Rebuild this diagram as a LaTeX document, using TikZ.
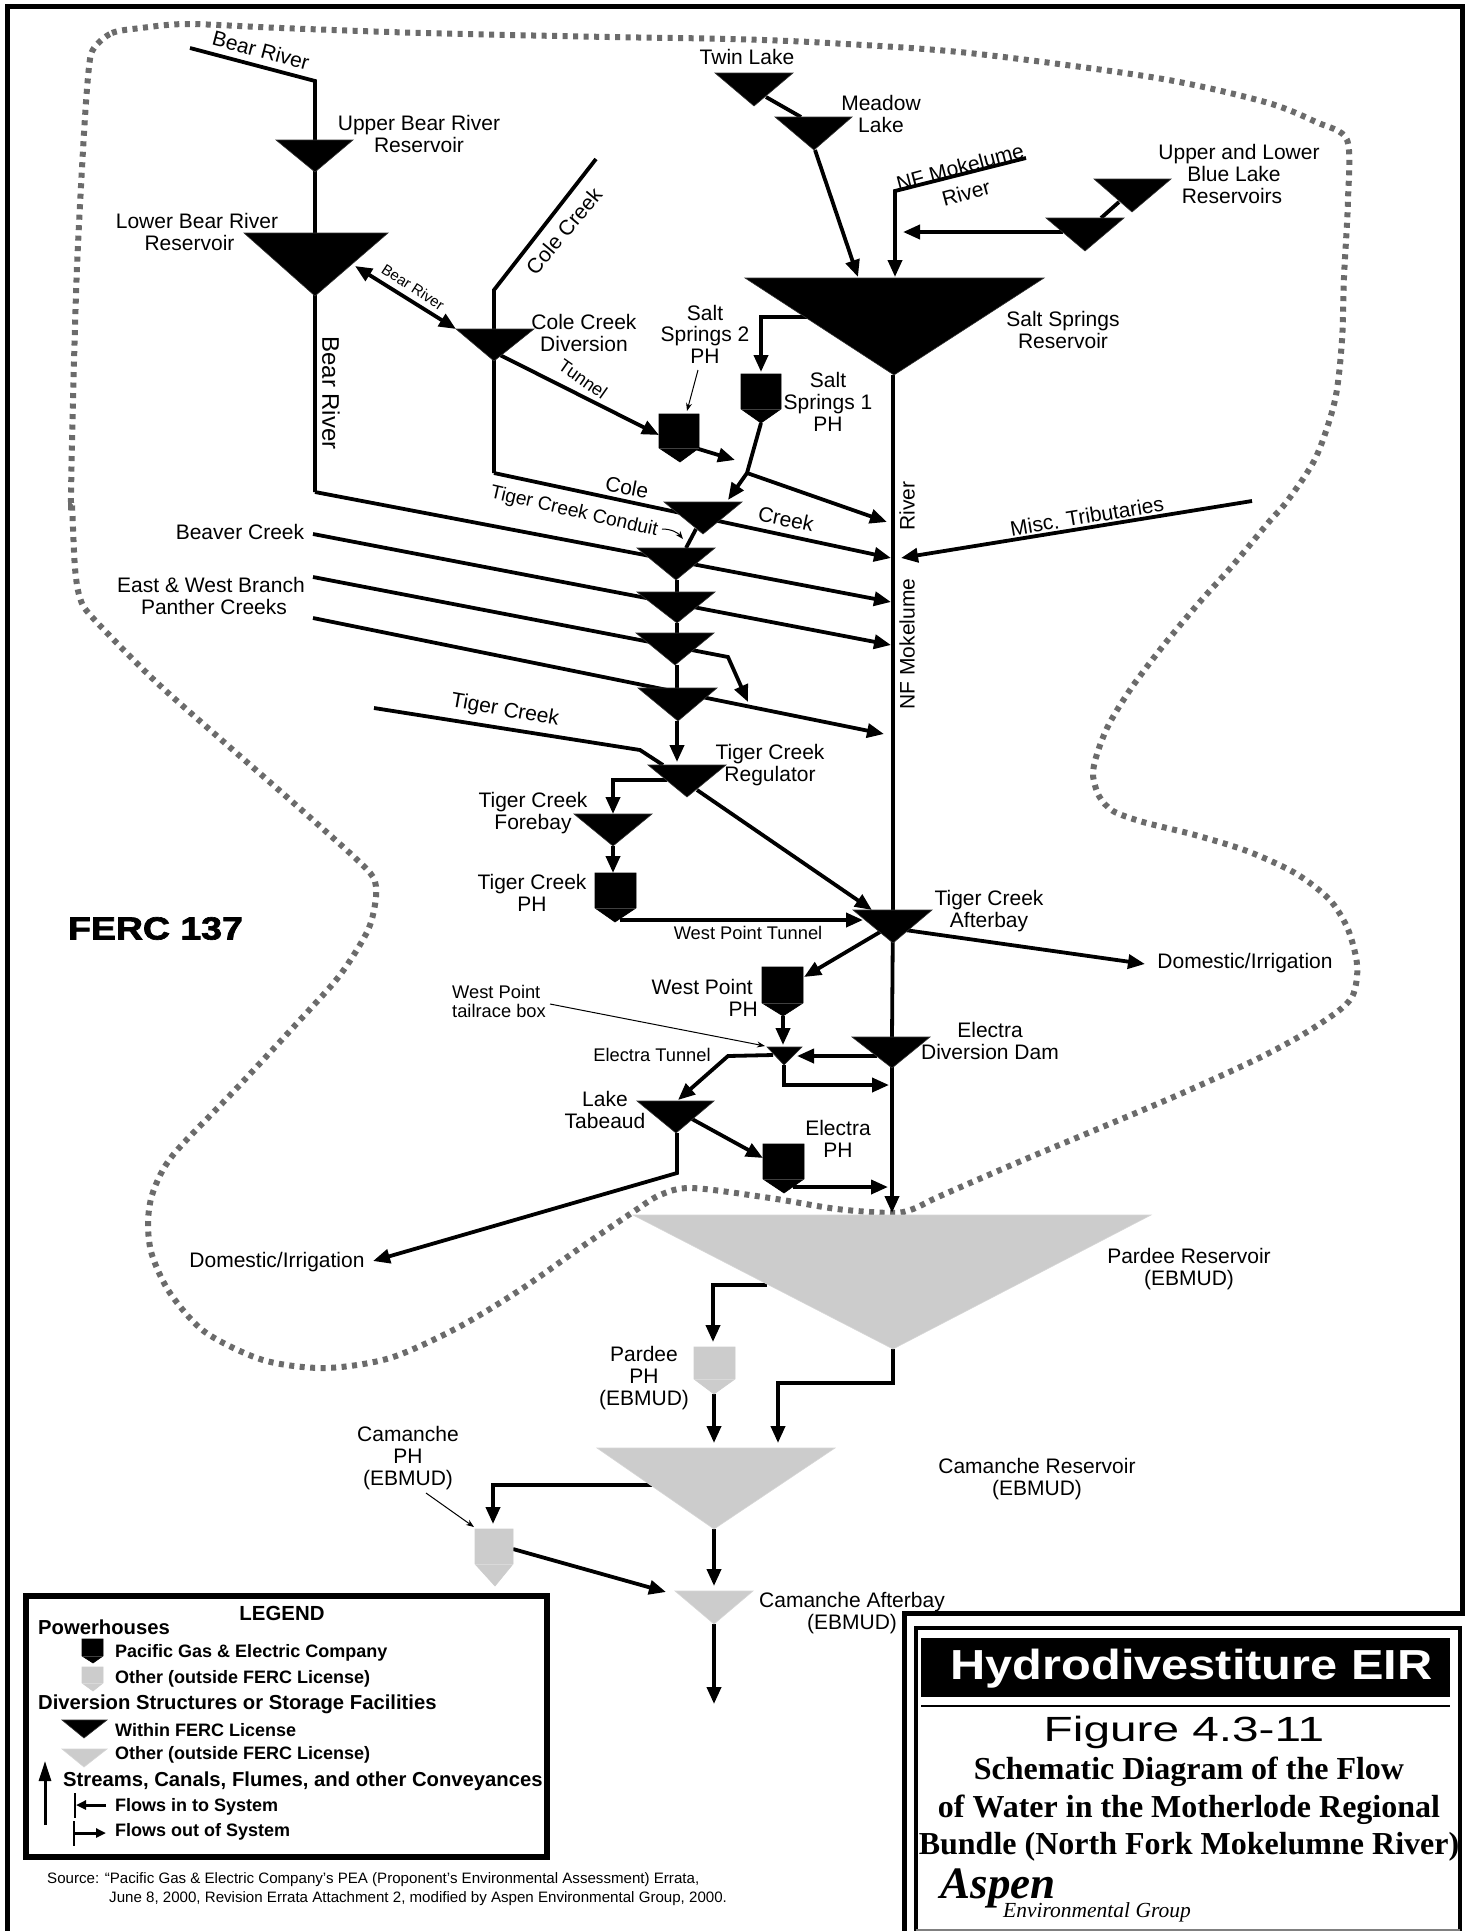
\documentclass[tikz,border=0pt]{standalone}
\usepackage{fontspec}
\setmainfont{Liberation Sans}
\newfontfamily\tnr{Liberation Serif}
\newfontfamily\heavyf{Liberation Sans}[UprightFont=* Bold,FakeBold=2]
\usetikzlibrary{arrows.meta}
\definecolor{gry}{gray}{0.8}
\definecolor{dotgry}{gray}{0.42}
\tikzset{
  flow/.style={line width=3.8pt,line join=miter},
  arr/.style={flow,-{Triangle[length=17pt,width=14pt]}},
  darr/.style={flow,{Triangle[length=17pt,width=14pt]}-{Triangle[length=17pt,width=14pt]}},
  thinarr/.style={line width=1pt,-{Stealth[length=8pt,width=6pt]}},
  lbl/.style={inner sep=0pt,align=center,font=\fontsize{21}{22}\selectfont},
  lblr/.style={inner sep=0pt,align=right,font=\fontsize{21}{21.5}\selectfont},
  smalllbl/.style={inner sep=0pt,align=center,font=\fontsize{18.3}{19}\selectfont},
  legh/.style={inner sep=0pt,anchor=west,font=\bfseries\fontsize{20.25}{21}\selectfont},
  legt/.style={inner sep=0pt,anchor=west,font=\bfseries\fontsize{18}{19}\selectfont},
  srct/.style={inner sep=0pt,anchor=west,font=\fontsize{15.1}{16}\selectfont},
  titletimes/.style={inner sep=0pt,font=\tnr\bfseries\fontsize{32}{32}\selectfont},
}
\newcommand{\resv}[7]{%
  \coordinate (#1-l) at (#2,#4); \coordinate (#1-r) at (#3,#4); \coordinate (#1-a) at (#5,#6);
  \filldraw[fill=#7,draw=#7!80!white,line width=.6pt] (#1-l) -- (#1-r) -- (#1-a) -- cycle;}
\newcommand{\phouse}[8]{%
  \coordinate (#1-a) at (#6,#7);
  \filldraw[fill=#8,draw=#8,line width=.6pt] (#2,#4) -- (#3,#4) -- (#3,#5) -- (#1-a) -- (#2,#5) -- cycle;
  \draw[#8!75!white,line width=.5pt] (#2,#5) -- (#3,#5);}
\begin{document}
\begin{tikzpicture}[x=1pt,y=-1pt]
\useasboundingbox (0,0) rectangle (1470,1931);
\fill[white] (0,0) rectangle (1470,1931);

% outer frame
\coordinate (fa) at (7,1931); \coordinate (fb) at (7,6); \coordinate (fc) at (1462,6);
\coordinate (fd) at (1462,1613); \coordinate (fe) at (904,1613); \coordinate (ff) at (904,1931);
\draw[line width=5pt,line join=miter] (fa) -- (fb) -- (fc) -- (fd) -- (fe) -- (ff);

% FERC boundary
\draw[dotgry,line width=6pt,dash pattern=on 5pt off 5.5pt]
 plot[smooth cycle,tension=.5] coordinates {(94,48)(112,33)(141,28)(188,24)(281,28)(422,33)(609,37)(731,39)(829,43)(969,53)(1157,78)(1265,102)(1316,122)(1347,140)(1348,200)(1344,277)(1342,340)(1335,400)(1316,457)(1288,500)(1268,523)(1233,565)(1198,604)(1163,646)(1132,687)(1109,724)(1097,754)(1093,775)(1099,796)(1113,811)(1143,822)(1195,835)(1247,851)(1295,873)(1329,899)(1347,927)(1356,957)(1357,977)(1352,997)(1337,1012)(1302,1035)(1255,1060)(1178,1095)(1100,1128)(1040,1153)(1000,1170)(938,1197)(913,1209)(892,1213)(837,1209)(770,1198)(692,1188)(660,1195)(633,1212)(580,1248)(520,1290)(457,1328)(390,1358)(325,1368)(263,1360)(205,1332)(170,1293)(152,1255)(148,1223)(153,1192)(173,1155)(235,1090)(300,1020)(340,975)(368,930)(376,897)(373,877)(352,855)(288,798)(217,736)(153,679)(92,617)(80,598)(75,568)(72,505)(71,497)(73,400)(77,267)(84,133)(89,67)};

% junction coordinates
\coordinate (br0) at (190,48); \coordinate (br1) at (315,81); \coordinate (br2) at (315,492); \coordinate (m3) at (891,602);
\coordinate (cc0) at (596,159); \coordinate (cc1) at (494,290); \coordinate (cc2) at (494,473); \coordinate (m2) at (891,558);
\coordinate (bv0) at (313,534); \coordinate (m4) at (891,645);
\coordinate (ew0) at (313,577); \coordinate (ew1) at (728,657); \coordinate (ew2) at (748,702);
\coordinate (pc0) at (313,618); \coordinate (m5) at (884,734);
\coordinate (tc0) at (374,708); \coordinate (tc1) at (640,750); \coordinate (tc2) at (663,765);
\coordinate (ms0) at (1252,501); \coordinate (ms1) at (901,558);
\coordinate (jn) at (747,473); \coordinate (m1) at (887,522);
\coordinate (t1in) at (728,500);
\coordinate (s2a) at (692,447); \coordinate (s2b) at (735,460);
\coordinate (tn0) at (498,354); \coordinate (tn1) at (659,435);
\coordinate (lb0) at (355,266); \coordinate (lb1) at (456,329);
\coordinate (ss0) at (808,317); \coordinate (ss1) at (761,317); \coordinate (ss2) at (761,372);
\coordinate (nf0) at (1026,158); \coordinate (nf1) at (895,191); \coordinate (nf2) at (895,277);
\coordinate (ml0) at (815,150); \coordinate (ml1) at (858,277);
\coordinate (twa) at (766,97); \coordinate (twb) at (801,117);
\coordinate (ub0) at (1119,202); \coordinate (ub1) at (1101,218);
\coordinate (lb2) at (1063,232); \coordinate (lb3) at (903,232);
\coordinate (t12a) at (696,529); \coordinate (t12b) at (686,548);
\coordinate (rg0) at (677,721); \coordinate (rg1) at (677,762);
\coordinate (rl0) at (667,780); \coordinate (rl1) at (613,780); \coordinate (rl2) at (613,814);
\coordinate (rr0) at (697,790); \coordinate (rr1) at (872,910);
\coordinate (fb1) at (613,846); \coordinate (fb2) at (613,873);
\coordinate (wt0) at (620,920); \coordinate (wt1) at (863,920);
\coordinate (dm0) at (905,930); \coordinate (dm1) at (1145,964);
\coordinate (wp0) at (880,932); \coordinate (wp1) at (804,977);
\coordinate (wq0) at (783,1016); \coordinate (wq1) at (783,1045);
\coordinate (ed0) at (877,1056); \coordinate (ed1) at (797,1056);
\coordinate (tl0) at (784,1065); \coordinate (tl1) at (784,1085); \coordinate (tl2) at (889,1085);
\coordinate (et0) at (773,1055); \coordinate (et1) at (728,1056); \coordinate (et2) at (678,1100);
\coordinate (ta0) at (692,1119); \coordinate (ta1) at (763,1158);
\coordinate (td0) at (677,1133); \coordinate (td1) at (677,1173); \coordinate (td2) at (373,1261);
\coordinate (ep0) at (793,1187); \coordinate (ep1) at (888,1187);
\coordinate (ri0) at (893,375); \coordinate (ri1) at (893,910); \coordinate (ri2) at (892,1037); \coordinate (ri3) at (892,1213);
\coordinate (pl0) at (767,1285); \coordinate (pl1) at (713,1285); \coordinate (pl2) at (713,1342);
\coordinate (pr0) at (893,1349); \coordinate (pr1) at (893,1383); \coordinate (pr2) at (778,1383); \coordinate (pr3) at (778,1443);
\coordinate (pp0) at (714,1394); \coordinate (pp1) at (714,1443);
\coordinate (cl0) at (652,1485); \coordinate (cl1) at (493,1485); \coordinate (cl2) at (493,1524);
\coordinate (cc3) at (714,1529); \coordinate (cc4) at (714,1586);
\coordinate (cp0) at (513,1549); \coordinate (cp1) at (666,1592);
\coordinate (ab0) at (714,1624); \coordinate (ab1) at (714,1704);

% connectors
\draw[flow] (br0) -- (br1) -- (br2);
\draw[arr] (br2) -- (m3);
\draw[flow] (cc0) -- (cc1) -- (cc2);
\draw[arr] (cc2) -- (m2);
\draw[arr] (bv0) -- (m4);
\draw[arr] (ew0) -- (ew1) -- (ew2);
\draw[arr] (pc0) -- (m5);
\draw[flow] (tc0) -- (tc1) -- (tc2);
\draw[arr] (ms0) -- (ms1);
\draw[arr] (jn) -- (m1);
\draw[darr] (lb0) -- (lb1);
\draw[arr] (tn0) -- (tn1);
\draw[arr] (s2a) -- (s2b);
\draw[arr] (ss0) -- (ss1) -- (ss2);
\draw[arr] (nf0) -- (nf1) -- (nf2);
\draw[arr] (ml0) -- (ml1);
\draw[flow] (twa) -- (twb);
\draw[flow] (ub0) -- (ub1);
\draw[arr] (lb2) -- (lb3);
\draw[flow] (t12a) -- (t12b);
\draw[flow] (677,580) -- (677,592);
\draw[flow] (677,623) -- (677,633);
\draw[flow] (677,665) -- (677,688);
\draw[arr] (rg0) -- (rg1);
\draw[arr] (rl0) -- (rl1) -- (rl2);
\draw[arr] (rr0) -- (rr1);
\draw[arr] (fb1) -- (fb2);
\draw[arr] (wt0) -- (wt1);
\draw[arr] (dm0) -- (dm1);
\draw[arr] (wp0) -- (wp1);
\draw[arr] (wq0) -- (wq1);
\draw[arr] (ed0) -- (ed1);
\draw[arr] (tl0) -- (tl1) -- (tl2);
\draw[arr] (et0) -- (et1) -- (et2);
\draw[arr] (ta0) -- (ta1);
\draw[arr] (td0) -- (td1) -- (td2);
\draw[arr] (ep0) -- (ep1);
\draw[flow] (ri0) -- (ri1) -- (ri2);
\draw[arr] (ri2) -- (ri3);
\draw[arr] (pl0) -- (pl1) -- (pl2);
\draw[arr] (pr0) -- (pr1) -- (pr2) -- (pr3);
\draw[arr] (pp0) -- (pp1);
\draw[arr] (cl0) -- (cl1) -- (cl2);
\draw[arr] (cc3) -- (cc4);
\draw[arr] (cp0) -- (cp1);
\draw[arr] (ab0) -- (ab1);
\draw[flow] (jn) -- (761,423);
\draw[arr] (jn) -- (t1in);

% reservoirs
\resv{ubr}{276}{353}{140}{315}{172}{black}
\resv{lbr}{244}{388}{233}{315}{296}{black}
\resv{ccd}{456}{534}{329}{494}{361}{black}
\resv{twin}{715}{793}{73}{754}{106}{black}
\resv{mead}{775}{852}{117}{814}{150}{black}
\resv{ublue}{1094}{1171}{179}{1132}{212}{black}
\resv{lblue}{1046}{1124}{218}{1085}{251}{black}
\resv{salt}{745}{1044}{278}{894}{375}{black}
\resv{t1}{664}{742}{502}{703}{534}{black}
\resv{t2}{637}{715}{548}{676}{580}{black}
\resv{t3}{637}{715}{592}{677}{623}{black}
\resv{t4}{636}{714}{633}{675}{665}{black}
\resv{t5}{638}{717}{688}{678}{721}{black}
\resv{reg}{648}{726}{765}{687}{797}{black}
\resv{fore}{574}{652}{814}{613}{846}{black}
\resv{aft}{853}{932}{910}{893}{943}{black}
\resv{tail}{767}{802}{1047}{784}{1065}{black}
\resv{edd}{852}{930}{1037}{892}{1068}{black}
\resv{tab}{637}{714}{1101}{676}{1133}{black}
\resv{par}{633}{1151}{1215}{893}{1349}{gry}
\resv{cam}{597}{835}{1448}{714}{1529}{gry}
\resv{caf}{675}{753}{1591}{714}{1624}{gry}

% powerhouses
\phouse{s2}{659}{699}{414}{448}{680}{462}{black}
\phouse{s1}{741}{781}{374}{409}{761}{423}{black}
\phouse{tp}{595}{636}{873}{908}{615}{922}{black}
\phouse{wp}{762}{803}{967}{1003}{783}{1016}{black}
\phouse{ep}{763}{804}{1144}{1179}{784}{1193}{black}
\phouse{pp}{694}{735}{1347}{1379}{714}{1394}{gry}
\phouse{cp}{475}{513}{1529}{1564}{495}{1586}{gry}

% leader lines
\coordinate (la0) at (698,370); \coordinate (la1) at (687,411);
\draw[thinarr] (la0) -- (la1);
\coordinate (lc0) at (662,529); \coordinate (lc1) at (683,539);
\draw[thinarr] (lc0) .. controls (672,529) and (678,533) .. (lc1);
\coordinate (ld0) at (550,1004); \coordinate (ld1) at (765,1046);
\draw[thinarr] (ld0) -- (ld1);
\coordinate (le0) at (426,1493); \coordinate (le1) at (474,1527);
\draw[thinarr] (le0) -- (le1);

% labels
\node[lbl,rotate=-15] (n1) at (261,50) {Bear River};
\node[lbl] (n2) at (419,134) {Upper Bear River\\Reservoir};
\node[lbl] (n3) at (197,232) {Lower Bear River\\\hspace*{-15pt}Reservoir};
\node[lbl,rotate=50] (n4) at (564,231) {Cole Creek};
\node[lbl,rotate=-33,font=\fontsize{15}{16}\selectfont] (n5) at (413,287) {Bear River};
\node[lbl,rotate=-90,font=\fontsize{24}{25}\selectfont] (n6) at (331,393) {Bear River};
\node[lbl] (n7) at (584,333) {Cole Creek\\Diversion};
\node[lbl,rotate=-35,font=\fontsize{18}{19}\selectfont] (n8) at (583,379) {Tunnel};
\node[lbl,font=\fontsize{21}{21.5}\selectfont] (n9) at (705,334) {Salt\\Springs 2\\PH};
\node[lbl] (n10) at (747,57) {Twin Lake};
\node[lbl] (n11) at (881,114) {Meadow\\Lake};
\node[lbl,rotate=15] (n12) at (960,167) {NF Mokelume};
\node[lbl,rotate=15] (n13) at (966,193) {River};
\node[lbl] (n14) at (1239,174) {Upper and Lower\\\hspace*{-10pt}Blue Lake\\\hspace*{-14pt}Reservoirs};
\node[lbl] (n15) at (1063,330) {Salt Springs\\Reservoir};
\node[lbl] (n16) at (828,402) {Salt\\Springs 1\\PH};
\node[lbl,rotate=-11] (n17) at (627,487) {Cole};
\node[lbl,rotate=-12] (n18) at (786,519) {Creek};
\node[lbl,rotate=-13,font=\fontsize{19.2}{20}\selectfont] (n19) at (574,512) {Tiger Creek Conduit};
\node[lbl,rotate=90] (n20) at (907,506) {River};
\node[lbl,rotate=90] (n21) at (907,644) {NF Mokelume};
\node[lbl,rotate=9.5] (n22) at (1087,516) {Misc. Tributaries};
\node[lbl] (n23) at (240,532) {Beaver Creek};
\node[lbl] (n24) at (211,596) {East \& West Branch\\\hspace*{6pt}Panther Creeks};
\node[lbl,rotate=-10] (n25) at (505,711) {Tiger Creek};
\node[lbl] (n26) at (770,765) {Tiger Creek\\Regulator};
\node[lbl] (n27) at (533,813) {Tiger Creek\\Forebay};
\node[lbl] (n28) at (532,893) {Tiger Creek\\PH};
\node[smalllbl] (n29) at (748,933) {West Point Tunnel};
\node[lbl] (n30) at (989,911) {Tiger Creek\\Afterbay};
\node[lbl] (n31) at (1245,963) {Domestic/Irrigation};
\node[lblr,anchor=east] (n32) at (758,998) {West Point\hspace*{5pt}\\PH};
\node[smalllbl,align=left,anchor=west] (n33) at (452,1001) {West Point\\tailrace box};
\node[smalllbl] (n34) at (652,1055) {Electra Tunnel};
\node[lbl] (n35) at (990,1041) {Electra\\Diversion Dam};
\node[lbl] (n36) at (605,1110) {Lake\\Tabeaud};
\node[lbl] (n37) at (838,1139) {Electra\\PH};
\node[lbl] (n38) at (277,1262) {Domestic/Irrigation};
\node[lbl] (n39) at (1189,1269) {Pardee Reservoir\\(EBMUD)};
\node[lbl] (n40) at (644,1378) {Pardee\\PH\\(EBMUD)};
\node[lbl] (n41) at (408,1458) {Camanche\\PH\\(EBMUD)};
\node[lbl] (n42) at (1037,1479) {Camanche Reservoir\\(EBMUD)};
\node[lbl] (n43) at (852,1613) {Camanche Afterbay\\(EBMUD)};
\node[inner sep=0pt,font=\heavyf\fontsize{32}{32}\selectfont] (n44) at (155.5,928.5) {\scalebox{1.17}[1]{FERC 137}};

% legend
\draw[line width=5.5pt,line join=miter] (26,1596) rectangle (547,1857);
\node[inner sep=0pt,font=\bfseries\fontsize{20.4}{21}\selectfont] (g0) at (282,1613) {LEGEND};
\node[legh] (g1) at (38,1627) {Powerhouses};
\phouse{g2}{82}{103}{1639}{1656}{93}{1663}{black}
\node[legt] (g3) at (115,1653) {Pacific Gas \& Electric Company};
\phouse{g4}{82}{103}{1667}{1683}{93}{1691}{gry}
\node[legt] (g5) at (115,1679) {Other (outside FERC License)};
\node[legh] (g6) at (38,1704) {Diversion Structures or Storage Facilities};
\resv{g7}{62}{107}{1720}{84}{1738}{black}
\node[legt] (g8) at (115,1730) {Within FERC License};
\resv{g9}{62}{107}{1749}{84}{1767}{gry}
\node[legt] (g10) at (115,1755) {Other (outside FERC License)};
\coordinate (ga0) at (45,1825); \coordinate (ga1) at (45,1761);
\draw[line width=3pt,-{Triangle[length=20pt,width=12pt]}] (ga0) -- (ga1);
\node[legh] (g11) at (63,1781) {Streams, Canals, Flumes, and other Conveyances};
\coordinate (gb0) at (75,1793); \coordinate (gb1) at (75,1818);
\draw[line width=2pt] (gb0) -- (gb1);
\coordinate (gc0) at (106,1805); \coordinate (gc1) at (76,1805);
\draw[line width=3pt,-{Triangle[length=10pt,width=9pt]}] (gc0) -- (gc1);
\node[legt] (g12) at (115,1807) {Flows in to System};
\coordinate (gd0) at (74,1821); \coordinate (gd1) at (74,1846);
\draw[line width=2pt] (gd0) -- (gd1);
\coordinate (ge0) at (74,1833); \coordinate (ge1) at (106,1833);
\draw[line width=3pt,-{Triangle[length=10pt,width=9pt]}] (ge0) -- (ge1);
\node[legt] (g13) at (115,1832) {Flows out of System};

% source
\node[srct] (s1t) at (47,1880) {Source: “Pacific Gas \& Electric Company’s PEA (Proponent’s Environmental Assessment) Errata,};
\node[srct] (s2t) at (109,1899) {June 8, 2000, Revision Errata Attachment 2, modified by Aspen Environmental Group, 2000.};

% title block
\draw[line width=3.5pt,line join=miter] (916,1931) -- (916,1628) -- (1460,1628) -- (1460,1931);
\coordinate (bt0) at (916,1930); \coordinate (bt1) at (1460,1930);
\draw[gray,line width=1.5pt] (bt0) -- (bt1);
\fill (921,1638) rectangle (1450,1697);
\coordinate (ru0) at (921,1706); \coordinate (ru1) at (1450,1706);
\draw[line width=1.5pt] (ru0) -- (ru1);
\node[inner sep=0pt,text=white,font=\bfseries\fontsize{42}{42}\selectfont] (h1) at (1191.5,1669) {\scalebox{1.16}[1]{Hydrodivestiture EIR}};
\node[inner sep=0pt,font=\fontsize{35}{35}\selectfont] (h2) at (1184,1732) {\scalebox{1.365}[1]{Figure 4.3-11}};
\node[titletimes] (h3) at (1189,1772) {Schematic Diagram of the Flow};
\node[titletimes] (h4) at (1189,1810) {of Water in the Motherlode Regional};
\node[titletimes] (h5) at (1189,1847) {Bundle (North Fork Mokelumne River)};
\node[inner sep=0pt,font=\tnr\bfseries\itshape\fontsize{45}{45}\selectfont] (h6) at (998,1888) {Aspen};
\node[inner sep=0pt,font=\tnr\itshape\fontsize{21.5}{21.5}\selectfont] (h7) at (1097,1912) {Environmental Group};
\end{tikzpicture}
\end{document}
